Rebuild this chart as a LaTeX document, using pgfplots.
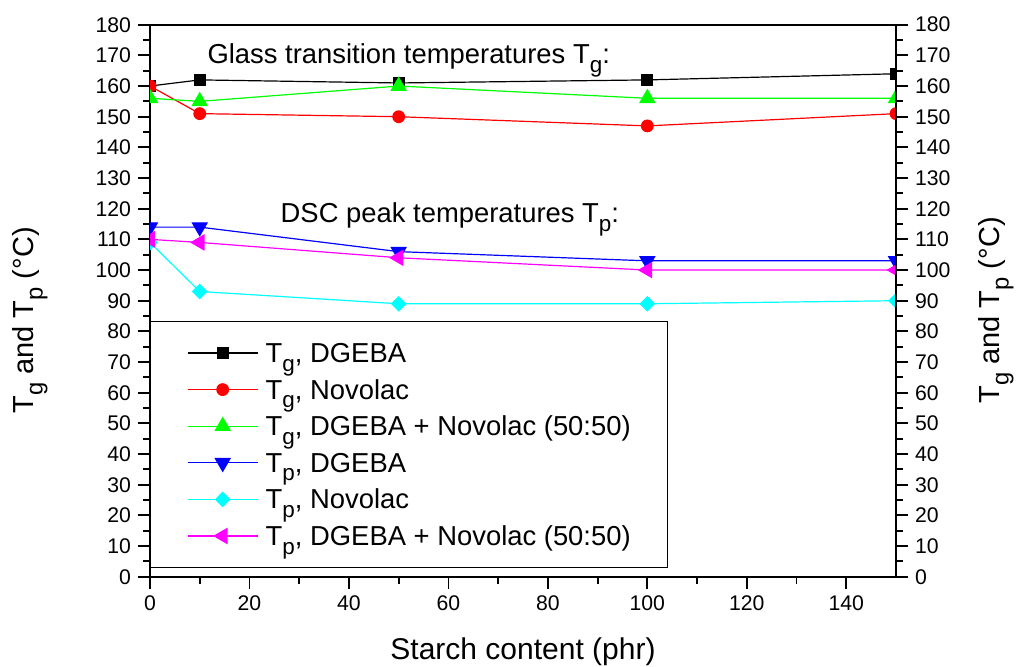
\documentclass[border=0pt]{standalone}
\usepackage{fontspec}
\setmainfont{Liberation Sans}
\usepackage{graphicx}
\usepackage{pgfplots}
\pgfplotsset{compat=1.18}

\definecolor{cRed}{RGB}{255,0,0}
\definecolor{cGreen}{RGB}{0,255,0}
\definecolor{cBlue}{RGB}{0,0,255}
\definecolor{cCyan}{RGB}{0,255,255}
\definecolor{cMagenta}{RGB}{255,0,255}

\newcommand{\sub}[1]{\raisebox{-0.6ex}{\scalebox{0.82}{#1}}}

\pgfplotstableread{
x   tgd  tgn  tgm  tpd  tpn  tpm
0   160  160  156  114  109  110
10  162  151  155  114  93   109
50  161  150  160  106  89   104
100 162  147  156  103  89   100
150 164  151  156  103  90   100
}\datatable

\pgfplotsset{
  common/.style={
    scale only axis,
    width=373pt, height=276pt,
    at={(75pt,44.65pt)}, anchor=south west,
    xmin=0, xmax=150, ymin=0, ymax=180,
    xtick={0,20,...,140}, minor x tick num=1,
    ytick={0,10,...,180}, minor y tick num=1,
    tick align=outside,
    major tick length=6pt, minor tick length=3.5pt,
    every tick/.style={black, line width=0.9pt},
    axis line style={line width=1pt},
    /pgf/number format/assume math mode=true,
    tick label style={font=\fontsize{10.6}{12}\selectfont},
    label style={font=\fontsize{15}{18}\selectfont},
  }
}

\begin{document}
\begin{tikzpicture}
\useasboundingbox (0,0) rectangle (511.5pt,333pt);
\begin{axis}[common,
  xtick pos=bottom, ytick pos=left,
  xlabel={Starch content (phr)},
  xlabel style={yshift=-6.5pt},
  ylabel={T\sub{g} and T\sub{p} (°C)},
  every axis y label/.style={at={(axis description cs:-0.185,0.4645)}, rotate=90, anchor=north, inner sep=0pt, font=\fontsize{14.5}{17}\selectfont},
  clip marker paths=true,
  legend cell align=left,
  legend image code/.code={\draw[mark repeat=2,mark phase=2] plot coordinates {(0pt,0pt) (17.5pt,0pt) (35pt,0pt)};},
  legend style={at={(0,0.0158)}, anchor=south west, draw=black, line width=0.5pt,
    font=\fontsize{13.7}{16}\selectfont, inner xsep=18.3pt, inner ysep=9pt,
    row sep=4.8pt, column sep=3.7pt,
    nodes={inner sep=0pt, text height=11.5pt, text depth=2pt}},
  every axis plot/.append style={line width=0.6pt},
]
\addplot[black, mark=square*, mark size=2.7pt, mark options={solid}] table[x=x,y=tgd] {\datatable};
\addlegendentry{T\sub{g}, DGEBA}
\addplot[cRed, mark=*, mark size=2.9pt] table[x=x,y=tgn] {\datatable};
\addlegendentry{T\sub{g}, Novolac}
\addplot[cGreen, mark=triangle*, mark size=4.2pt] table[x=x,y=tgm] {\datatable};
\addlegendentry{T\sub{g}, DGEBA + Novolac (50:50)}
\addplot[cBlue, mark=triangle*, mark size=4.2pt, mark options={rotate=180}] table[x=x,y=tpd] {\datatable};
\addlegendentry{T\sub{p}, DGEBA}
\addplot[cCyan, mark=diamond*, mark size=3.5pt, mark options={xscale=1.33}] table[x=x,y=tpn] {\datatable};
\addlegendentry{T\sub{p}, Novolac}
\addplot[cMagenta, mark=triangle*, mark size=4.2pt, mark options={rotate=90}] table[x=x,y=tpm] {\datatable};
\addlegendentry{T\sub{p}, DGEBA + Novolac (50:50)}
\node[anchor=base west, inner sep=0pt, font=\fontsize{13.7}{16}\selectfont] at (axis cs:11.5,167.4) {Glass transition temperatures T\sub{g}:};
\node[anchor=base west, inner sep=0pt, font=\fontsize{13.7}{16}\selectfont] at (axis cs:26.2,115.5) {DSC peak temperatures T\sub{p}:};
\end{axis}
\begin{axis}[common,
  axis x line=none, axis y line*=right,
  ylabel={T\sub{g} and T\sub{p} (°C)},
  every axis y label/.style={at={(axis description cs:1.11,0.4825)}, rotate=90, anchor=north, inner sep=0pt, font=\fontsize{14.5}{17}\selectfont},
]
\addplot[draw=none] coordinates {(0,0)};
\end{axis}
\end{tikzpicture}
\end{document}
